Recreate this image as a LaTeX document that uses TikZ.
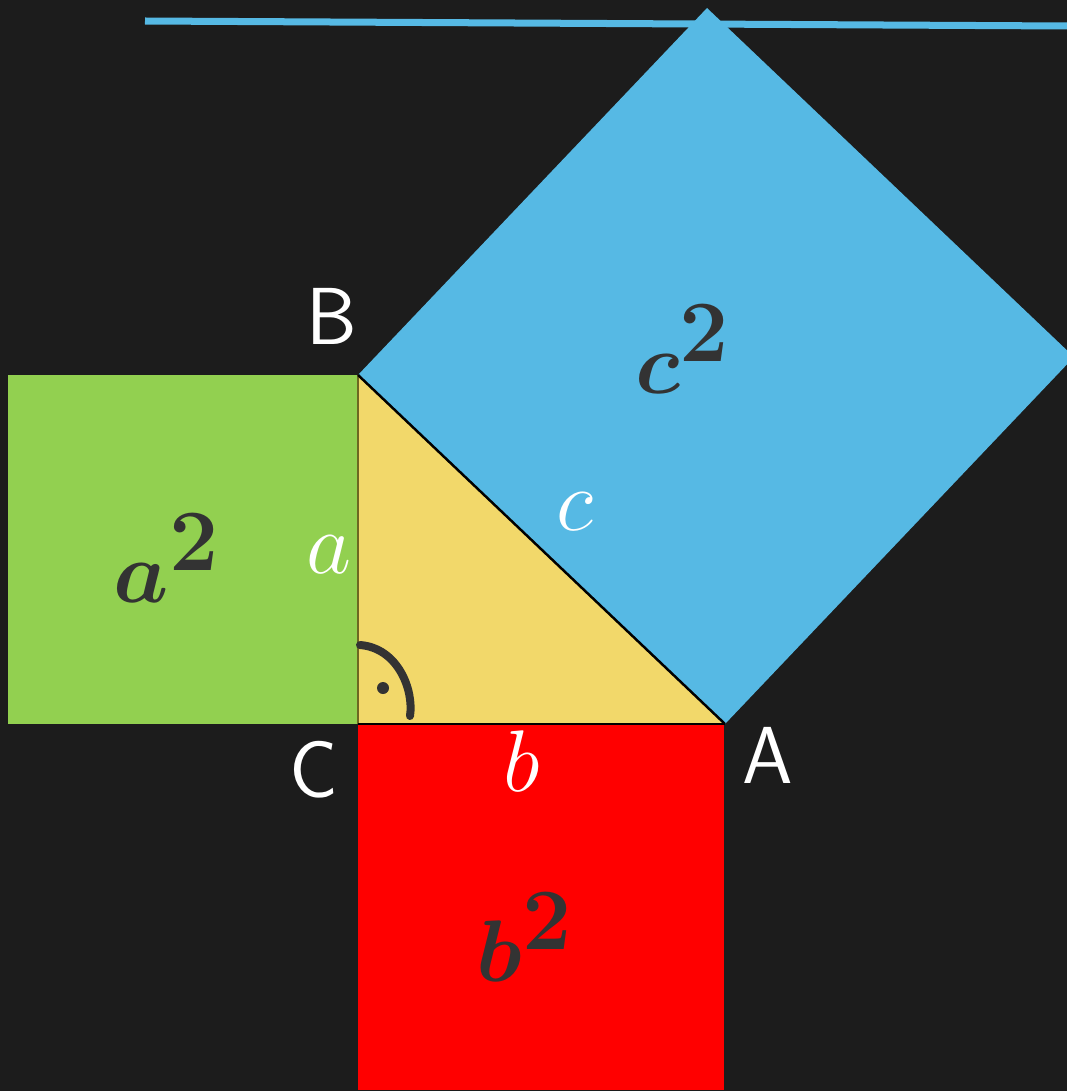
\documentclass[tikz,border=0pt]{standalone}
\usepackage{amsmath,amssymb}
\usepackage{xcolor}
\usepackage{tikz}
\usetikzlibrary{calc,positioning}
\definecolor{board}{RGB}{28,28,28}
\definecolor{squarea}{RGB}{146,208,80}
\definecolor{squareb}{RGB}{255,0,0}
\definecolor{squarec}{RGB}{86,185,228}
\definecolor{triangle}{RGB}{242,216,106}
\definecolor{ink}{RGB}{51,51,51}

\begin{document}
\begin{tikzpicture}[
    x=0.01cm, y=-0.01cm,
    vertex/.style={text=white, inner sep=0pt, font=\sffamily\fontsize{23}{26}\selectfont},
    side/.style={text=white, inner sep=0pt, font=\fontsize{28}{32}\selectfont},
    area/.style={text=ink, inner sep=0pt, font=\boldmath\fontsize{42}{46}\selectfont},
    edge/.style={draw=black, line width=0.7pt}
]

% Board
\useasboundingbox (0,0) rectangle (1067,1091);
\fill[board] (0,0) rectangle (1067,1091);
\clip (0,0) rectangle (1067,1091);

% Chalk stroke at the top
\coordinate (s1) at (145,21);
\coordinate (s2) at (1067,26);
\draw[squarec, line width=0.07cm] (s1) -- (s2);

% Triangle corners
\coordinate (C) at (358,724);
\coordinate (B) at (358,375);
\coordinate (A) at (725,724);

% Squares on the sides
\coordinate (Ga) at ($(B)+(-350,0)$);
\coordinate (Rb) at ($(C)+(366,366)$);
\coordinate (Pc) at ($(A)+(349,-367)$);
\coordinate (Qc) at ($(B)+(349,-367)$);
\fill[squarea] (Ga) rectangle (C);
\fill[squareb] (C) rectangle (Rb);
\fill[squarec] (B) -- (A) -- (Pc) -- (Qc) -- cycle;

% Triangle
\fill[triangle] (C) -- (B) -- (A) -- cycle;
\draw[draw=olive!70!black, line width=0.5pt] (C) -- (B);
\draw[edge] (B) -- (A);
\draw[edge] (C) -- (A);

% Right angle at C
\coordinate (r1) at (360,645);
\coordinate (r2) at (410,716);
\draw[ink, line width=0.08cm, line cap=round] (r1) .. controls (398,648) and (414,690) .. (r2);
\fill[ink] (383,688) circle (6);

% Corner labels
\node[vertex] (lB) at (332,316) {B};
\node[vertex] (lC) at (314,770) {C};
\node[vertex] (lA) at (768,755) {A};

% Side labels
\node[side] (la) at (329,555) {$a$};
\node[side] (lb) at (522,761) {$b$};
\node[side] (lc) at (575,512) {$c$};

% Area labels
\node[area] (sa) at (167,558) {$a^2$};
\node[area] (sb) at (525,937) {$b^2$};
\node[area] (sc) at (683,349) {$c^2$};

\end{tikzpicture}
\end{document}
